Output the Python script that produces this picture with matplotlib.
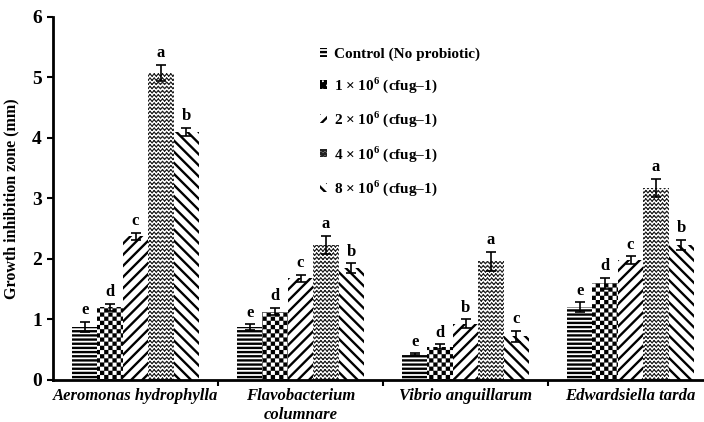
import warnings
import numpy as np
import matplotlib
matplotlib.use('Agg')
import matplotlib.pyplot as plt
import matplotlib.hatch as mhatch
from matplotlib.path import Path

warnings.filterwarnings('ignore')

bacteria = ['Aeromonas hydrophylla', 'Flavobacterium\ncolumnare',
            'Vibrio anguillarum', 'Edwardsiella tarda']
doses = ['Control (No probiotic)',
         r'1 × 10$^{\mathbf{6}}$ (cfug–1)',
         r'2 × 10$^{\mathbf{6}}$ (cfug–1)',
         r'4 × 10$^{\mathbf{6}}$ (cfug–1)',
         r'8 × 10$^{\mathbf{6}}$ (cfug–1)']

control = [0.88, 0.87, 0.43, 1.20]
dose_1 = [1.20, 1.13, 0.55, 1.60]
dose_2 = [2.37, 1.68, 0.93, 1.98]
dose_4 = [5.07, 2.23, 1.96, 3.17]
dose_8 = [4.10, 1.85, 0.72, 2.23]

control_err = [0.08, 0.05, 0.01, 0.08]
dose_1_err = [0.06, 0.06, 0.04, 0.09]
dose_2_err = [0.06, 0.06, 0.07, 0.06]
dose_4_err = [0.14, 0.15, 0.16, 0.15]
dose_8_err = [0.07, 0.08, 0.09, 0.08]

letters_control = ['e', 'e', 'e', 'e']
letters_1 = ['d', 'd', 'd', 'd']
letters_2 = ['c', 'c', 'b', 'c']
letters_4 = ['a', 'a', 'a', 'a']
letters_8 = ['b', 'b', 'c', 'b']


# custom hatches: 'k' = checkerboard, 'w' = zigzag waves
class CheckerHatch(mhatch.HatchPatternBase):
    def __init__(self, hatch, density):
        self.n = hatch.count('k') * density
        if self.n % 2:
            self.n += 1
        self.cells = [(i, j) for i in range(self.n) for j in range(self.n)
                      if (i + j) % 2 == 0] if self.n else []
        self.num_vertices = len(self.cells) * 5

    def set_vertices_and_codes(self, vertices, codes):
        s = 1.0 / self.n
        k = 0
        for i, j in self.cells:
            x0, y0 = j * s, i * s
            x1, y1 = (j + 1) * s, (i + 1) * s
            vertices[k:k + 5] = [[x0, y0], [x1, y0], [x1, y1], [x0, y1], [x0, y0]]
            codes[k:k + 5] = [Path.MOVETO, Path.LINETO, Path.LINETO,
                              Path.LINETO, Path.CLOSEPOLY]
            k += 5


class WaveHatch(mhatch.HatchPatternBase):
    def __init__(self, hatch, density):
        self.rows = hatch.count('w') * density
        self.steps = 2 * self.rows
        self.num_vertices = (self.rows + 1) * self.steps * 2 if self.rows else 0

    def set_vertices_and_codes(self, vertices, codes):
        dy = 1.0 / self.rows
        amp = dy * 0.25
        xs = np.linspace(0, 1, self.steps + 1)
        k = 0
        for r in range(self.rows + 1):
            y = r * dy
            for t in range(self.steps):
                ya = y + (amp if t % 2 == 0 else -amp)
                yb = y + (-amp if t % 2 == 0 else amp)
                vertices[k] = [xs[t], ya]
                vertices[k + 1] = [xs[t + 1], yb]
                codes[k] = Path.MOVETO
                codes[k + 1] = Path.LINETO
                k += 2


mhatch._hatch_types.extend([CheckerHatch, WaveHatch])

plt.rcParams['font.family'] = 'Liberation Serif'
plt.rcParams['font.weight'] = 'bold'
plt.rcParams['mathtext.fontset'] = 'custom'
plt.rcParams['mathtext.rm'] = 'Liberation Serif:bold'
plt.rcParams['mathtext.bf'] = 'Liberation Serif:bold'
plt.rcParams['hatch.linewidth'] = 1.7


def plot():
    fig = plt.figure(figsize=(7.04, 4.22), dpi=100)
    ax = fig.add_axes([53 / 704, 1 - 380 / 422, 660 / 704, 363.3 / 422])

    series = [control, dose_1, dose_2, dose_4, dose_8]
    errors = [control_err, dose_1_err, dose_2_err, dose_4_err, dose_8_err]
    letters = [letters_control, letters_1, letters_2, letters_4, letters_8]
    hatches = ['----', 'kkkk', '///', 'wwww', '\\\\\\']
    hatch_lw = [1.7, 0.1, 1.7, 0.85, 1.7]
    hatch_col = ['black', 'black', 'black', '#222222', 'black']

    x = np.arange(len(bacteria))
    width = 0.154
    for i in range(len(series)):
        pos = x + (i - 2) * width
        with plt.rc_context({'hatch.linewidth': hatch_lw[i]}):
            bars = ax.bar(pos, series[i], width, color='white',
                          edgecolor=hatch_col[i], linewidth=0,
                          hatch=hatches[i], label=doses[i])
        for b in bars:
            if hasattr(b, 'set_hatch_linewidth'):
                b.set_hatch_linewidth(hatch_lw[i])
        ax.errorbar(pos, series[i], yerr=errors[i], fmt='none', ecolor='black',
                    elinewidth=1.2, capsize=3.5, capthick=1.2)
        for p, v, e, t in zip(pos, series[i], errors[i], letters[i]):
            ax.text(p, v + e + 0.06, t, ha='center', va='bottom',
                    fontsize=12, fontweight='bold')

    ax.set_xlim(-0.5, 3.5)
    ax.set_ylim(0, 6)
    ax.set_yticks(range(7))
    ax.set_xticks([0.5, 1.5, 2.5])
    ax.set_xticklabels([])
    ax.set_xticks(x, minor=True)
    ax.set_xticklabels(bacteria, minor=True, fontsize=12, fontstyle='italic',
                       fontweight='bold')
    ax.tick_params(axis='x', which='minor', length=0, pad=6)
    ax.tick_params(axis='x', which='major', length=4, width=1.5)
    ax.tick_params(axis='y', length=4, width=1.5, labelsize=14, pad=4)
    ax.spines['top'].set_visible(False)
    ax.spines['right'].set_visible(False)
    ax.spines['left'].set_linewidth(2)
    ax.spines['bottom'].set_linewidth(2)
    ax.set_ylabel('Growth inhibition zone (mm)', fontsize=11.5, fontweight='bold',
                  labelpad=9)

    ax.legend(loc='upper left', bbox_to_anchor=(312 / 704, 1 - 40 / 422),
              bbox_transform=fig.transFigure, frameon=False, borderpad=0,
              handlelength=0.5, handleheight=0.5, handletextpad=0.45,
              labelspacing=0.95, prop={'size': 11, 'weight': 'bold'})

    fig.savefig('out.png', dpi=100)


if __name__ == "__main__":
    plot()
